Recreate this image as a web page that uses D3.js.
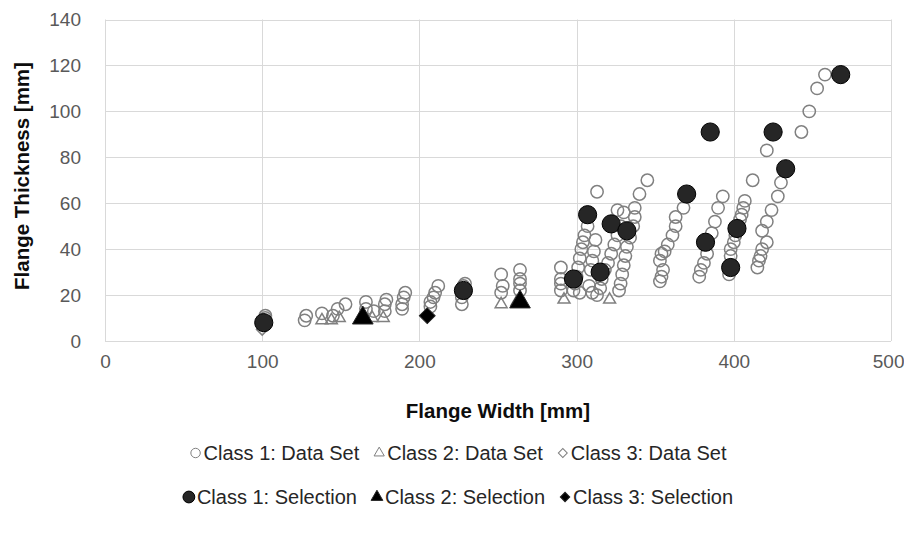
<!DOCTYPE html>
<html>
<head>
<meta charset="utf-8">
<script src="https://cdn.jsdelivr.net/npm/d3@7"></script>
<style>
  body { margin: 0; background: #fff; }
  svg { font-family: 'Liberation Sans', Arial, sans-serif; }
</style>
</head>
<body>
<div class="canvas"></div>
<script>
const width = 904, height = 540;

// values: [flange width, flange thickness]
const class1Data = [
  [102,10],[102,11],[127,9],[128,11],[138,12],[145,11],[148,14],[153,16],
  [166,14],[166,17],[171,13],[178,13],[178,16],[179,18],
  [189,14],[189,16],[190,19],[191,21],[207,15],[207,17],[209,19],[210,21],[212,24],
  [227,16],[227,19],[228,24],[229,25],[252,21],[253,24],[252,29],
  [264,22],[264,25],[264,27],[264,31],[290,22],[290,25],[290,27],[290,32],
  [298,22],[299,25],[300,28],[301,32],[302,36],[303,40],[304,43],[305,46],[307,50],
  [302,21],[310,21],[308,24],[309,31],[310,35],[311,39],[312,44],[313,65],
  [313,20],[315,23],[316,27],[318,31],[320,34],[322,38],[324,42],[326,46],[328,50],[330,56],[326,57],
  [327,22],[328,25],[329,29],[330,33],[331,37],[332,41],[334,45],[336,50],[337,54],[337,58],[340,64],[345,70],
  [353,26],[354,28],[355,31],[353,35],[354,38],[356,39],[358,42],[361,46],[363,50],[363,54],[368,58],
  [378,28],[379,31],[381,34],[383,38],[386,47],[388,52],[390,58],[393,63],
  [397,29],[398,33],[398,37],[398,40],[400,43],[401,46],[403,50],[404,53],[405,55],[406,58],[407,61],[412,70],
  [415,32],[416,35],[417,37],[418,40],[421,43],[418,48],[421,52],[424,57],[428,63],[430,69],
  [421,83],[443,91],[448,100],[453,110],[458,116]
];
const class2Data = [[138,9],[144,9],[149,10],[165,10],[170,10],[177,10],[252,16],[262,17],[292,18],[321,18]];
const class3Data = [[100,5],[205,11]];
const class1Sel = [
  [101,8],[228,22],[298,27],[307,55],[315,30],[322,51],[332,48],[370,64],
  [382,43],[385,91],[398,32],[402,49],[425,91],[433,75],[468,116]
];
const class2Sel = [[164,10],[264,17]];
const class3Sel = [[205,11]];

const xTicks = [0, 100, 200, 300, 400, 500];
const yTicks = [0, 20, 40, 60, 80, 100, 120, 140];
const legendRows = [
  ['Class 1: Data Set', 'Class 2: Data Set', 'Class 3: Data Set'],
  ['Class 1: Selection', 'Class 2: Selection', 'Class 3: Selection']
];

const svg = d3.select('.canvas').append('svg')
  .attr('width', width)
  .attr('height', height);

const x = d3.scaleLinear().domain([0, 500]).range([105, 891]);
const y = d3.scaleLinear().domain([0, 140]).range([341, 19.5]);

// gridlines
svg.append('g')
  .selectAll('line')
  .data(yTicks)
  .join('line')
  .attr('x1', x(0)).attr('x2', x(500))
  .attr('y1', d => Math.round(y(d)) + 0.5).attr('y2', d => Math.round(y(d)) + 0.5)
  .attr('stroke', '#d9d9d9');

svg.append('g')
  .selectAll('line')
  .data(xTicks)
  .join('line')
  .attr('y1', y(0)).attr('y2', y(140))
  .attr('x1', d => Math.round(x(d)) + 0.5).attr('x2', d => Math.round(x(d)) + 0.5)
  .attr('stroke', '#d9d9d9');

// axes (labels only, lines are the gridlines above)
const xAxis = svg.append('g')
  .attr('transform', `translate(0,${y(0)})`)
  .call(d3.axisBottom(x).tickValues(xTicks).tickSize(0).tickPadding(14));
const yAxis = svg.append('g')
  .attr('transform', `translate(${x(0)},0)`)
  .call(d3.axisLeft(y).tickValues(yTicks).tickSize(0).tickPadding(24));
[xAxis, yAxis].forEach(a => {
  a.select('.domain').remove();
  a.selectAll('text')
    .attr('font-family', "'Liberation Sans', Arial, sans-serif")
    .attr('font-size', 19)
    .attr('fill', '#595959');
});
// last x label would run off the right edge
xAxis.selectAll('text').filter(d => d === 500)
  .attr('text-anchor', 'end').attr('dx', 13);

svg.append('text')
  .attr('x', 498).attr('y', 418)
  .attr('text-anchor', 'middle')
  .attr('font-size', 20.5).attr('font-weight', 'bold')
  .attr('fill', '#0d0d0d')
  .text('Flange Width [mm]');

svg.append('text')
  .attr('transform', 'translate(29,176) rotate(-90)')
  .attr('text-anchor', 'middle')
  .attr('font-size', 20.5).attr('font-weight', 'bold')
  .attr('fill', '#0d0d0d')
  .text('Flange Thickness [mm]');

// marker styles
const grey = '#808080';
const styles = [
  { sym: d3.symbolCircle, size: 120, fill: 'none', stroke: grey, sw: 1.5, rot: 0, leg: 70 },
  { sym: d3.symbolTriangle, size: 62, fill: 'none', stroke: grey, sw: 1.5, rot: 0, leg: 45 },
  { sym: d3.symbolSquare, size: 64, fill: 'none', stroke: grey, sw: 1.5, rot: 45, leg: 40 },
  { sym: d3.symbolCircle, size: 260, fill: '#262626', stroke: '#000', sw: 1, rot: 0, leg: 110 },
  { sym: d3.symbolTriangle, size: 185, fill: '#000', stroke: '#262626', sw: 1, rot: 0, leg: 60 },
  { sym: d3.symbolSquare, size: 125, fill: '#000', stroke: '#262626', sw: 1, rot: 45, leg: 45 }
];
const series = [class1Data, class2Data, class3Data, class1Sel, class2Sel, class3Sel];

series.forEach((data, i) => {
  const s = styles[i];
  svg.append('g')
    .selectAll('path')
    .data(data)
    .join('path')
    .attr('d', d3.symbol().type(s.sym).size(s.size))
    .attr('transform', d => `translate(${x(d[0])},${y(d[1])}) rotate(${s.rot})`)
    .attr('fill', s.fill)
    .attr('stroke', s.stroke)
    .attr('stroke-width', s.sw);
});

// legend, two centred rows
const legendY = [453, 497];
legendRows.forEach((row, r) => {
  const g = svg.append('g');
  let cx = 0;
  row.forEach((label, j) => {
    const s = styles[r * 3 + j];
    g.append('path')
      .attr('d', d3.symbol().type(s.sym).size(s.leg))
      .attr('transform', `translate(${cx + 6},0) rotate(${s.rot})`)
      .attr('fill', s.fill)
      .attr('stroke', s.stroke)
      .attr('stroke-width', 1);
    const t = g.append('text')
      .attr('x', cx + 14)
      .attr('y', 7)
      .attr('font-size', 20)
      .attr('fill', '#262626')
      .text(label);
    cx += 14 + t.node().getComputedTextLength() + 14;
  });
  cx -= 14;
  g.attr('transform', `translate(${458 - cx / 2},${legendY[r]})`);
});
</script>
</body>
</html>
